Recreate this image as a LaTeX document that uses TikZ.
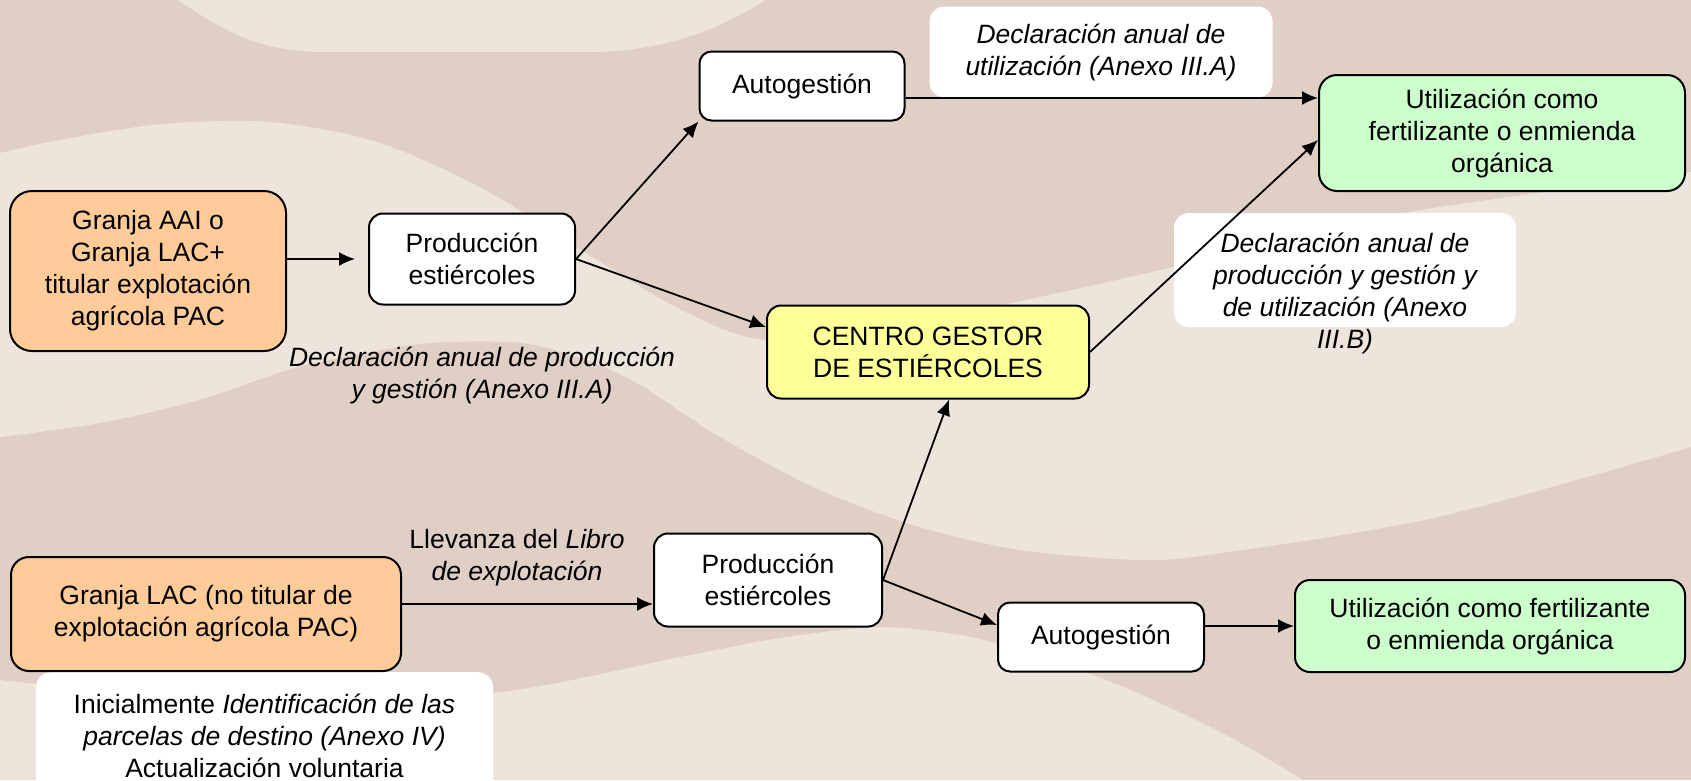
\documentclass[tikz,border=0pt]{standalone}
\usepackage{fontspec}
\setmainfont{Liberation Sans}
\usetikzlibrary{arrows.meta}
\definecolor{claro}{RGB}{237,228,220}
\definecolor{oscuro}{RGB}{224,207,197}
\definecolor{naranja}{RGB}{255,204,153}
\definecolor{amarillo}{RGB}{255,255,153}
\definecolor{verde}{RGB}{204,255,204}

\begin{document}
\begin{tikzpicture}[x=1pt,y=-1pt,
  caja/.style={draw, line width=2pt, fill=white, rounded corners=14pt, align=center, inner sep=0pt, font=\fontsize{26.5pt}{32pt}\selectfont},
  granja/.style={caja, fill=naranja, rounded corners=22pt},
  destino/.style={caja, fill=verde, rounded corners=18pt},
  texto/.style={align=center, inner sep=0pt, font=\fontsize{26.5pt}{32pt}\selectfont},
  rotulo/.style={texto, font=\fontsize{26.5pt}{32pt}\selectfont\itshape},
  flecha/.style={line width=1.8pt, -{Latex[length=16pt,width=14pt]}}]
\useasboundingbox (0,0) rectangle (1691,780);

% fondo
\fill [oscuro] (0,0) rectangle (1691,780);
\fill [claro] (178,0) .. controls (230,35) and (260,50) .. (320,52) -- (590,52) .. controls (660,52) and (720,30) .. (765,0) -- cycle;
\fill [claro] plot[smooth] coordinates {(0,153) (60,140) (162,124) (270,122) (377,142) (485,190) (600,262) (687,313) (767,340) (900,325) (1040,297) (1173,267) (1307,233) (1440,207) (1691,172)}
  -- (1691,447) -- plot[smooth] coordinates {(1691,447) (1438,517) (1222,553) (1140,560) (1020,550) (920,527) (820,490) (720,437) (637,383) (580,358) (522,343) (448,342) (398,347) (298,367) (199,400) (100,423) (0,437)} -- cycle;
\fill [claro] plot[smooth] coordinates {(0,680) (250,702) (493,693) (680,657) (780,638) (880,627) (960,635) (1007,647) (1114,683) (1222,733) (1303,780)} -- (0,780) -- cycle;

% rotulos
\node [rotulo, fill=white, rounded corners=15pt, minimum width=343pt, minimum height=91pt] (declA) at (1101,52) {Declaración anual de\\utilización (Anexo III.A)};
\fill [white, rounded corners=15pt] (1174,213) rectangle (1516,327);
\node [rotulo] (declB) at (1345,293) {Declaración anual de\\producción y gestión y\\de utilización (Anexo\\III.B)};
\node [rotulo] (declC) at (482,375) {Declaración anual de producción\\y gestión (Anexo III.A)};
\node [texto] (libro) at (517,558) {Llevanza del \textit{Libro}\\\textit{de explotación}};
\node [texto, fill=white, rounded corners=15pt, minimum width=457pt, minimum height=128pt, anchor=north] (nota) at (264.5,672) {Inicialmente \textit{Identificación de las}\\\textit{parcelas de destino (Anexo IV)}\\Actualización voluntaria};

% cajas
\node [granja, minimum width=276pt, minimum height=160pt] (granjaA) at (148,271) {Granja AAI o\\Granja LAC+\\titular explotación\\agrícola PAC};
\node [caja, minimum width=206pt, minimum height=91pt] (prodA) at (472,259) {Producción\\estiércoles};
\node [caja, minimum width=205pt, minimum height=69pt, rounded corners=12pt] (autoA) at (802,86) {Autogestión};
\node [destino, minimum width=366pt, minimum height=116pt] (utilA) at (1502,133) {Utilización como\\fertilizante o enmienda\\orgánica};
\node [caja, fill=amarillo, minimum width=322pt, minimum height=93pt] (centro) at (928,352) {CENTRO GESTOR\\DE ESTIÉRCOLES};
\node [granja, minimum width=390pt, minimum height=114pt, rounded corners=18pt] (granjaB) at (206,614) {Granja LAC (no titular de\\explotación agrícola PAC)};
\node [caja, minimum width=228pt, minimum height=93pt] (prodB) at (768,580) {Producción\\estiércoles};
\node [caja, minimum width=206pt, minimum height=69pt, rounded corners=12pt] (autoB) at (1101,637) {Autogestión};
\node [destino, minimum width=390pt, minimum height=92pt, rounded corners=15pt] (utilB) at (1490,626) {Utilización como fertilizante\\o enmienda orgánica};

% flechas
\draw [flecha, shorten >=13pt] (granjaA.east |- prodA.west) -- (prodA.west);
\draw [flecha] (prodA.east) -- (autoA.south west);
\draw [flecha] (prodA.east) -- ([yshift=25pt]centro.west);
\draw [flecha] ([yshift=-12pt]autoA.east) -- ([yshift=-12pt]autoA.east -| utilA.west);
\draw [flecha] (centro.east) -- ([yshift=-7pt]utilA.west);
\draw [flecha] ([yshift=10pt]granjaB.east) -- ([yshift=10pt]granjaB.east -| prodB.west);
\draw [flecha] (prodB.east) -- ([xshift=21pt]centro.south);
\draw [flecha] (prodB.east) -- ([yshift=12pt]autoB.west);
\draw [flecha] (autoB.east |- utilB.west) -- (utilB.west);

\end{tikzpicture}
\end{document}
